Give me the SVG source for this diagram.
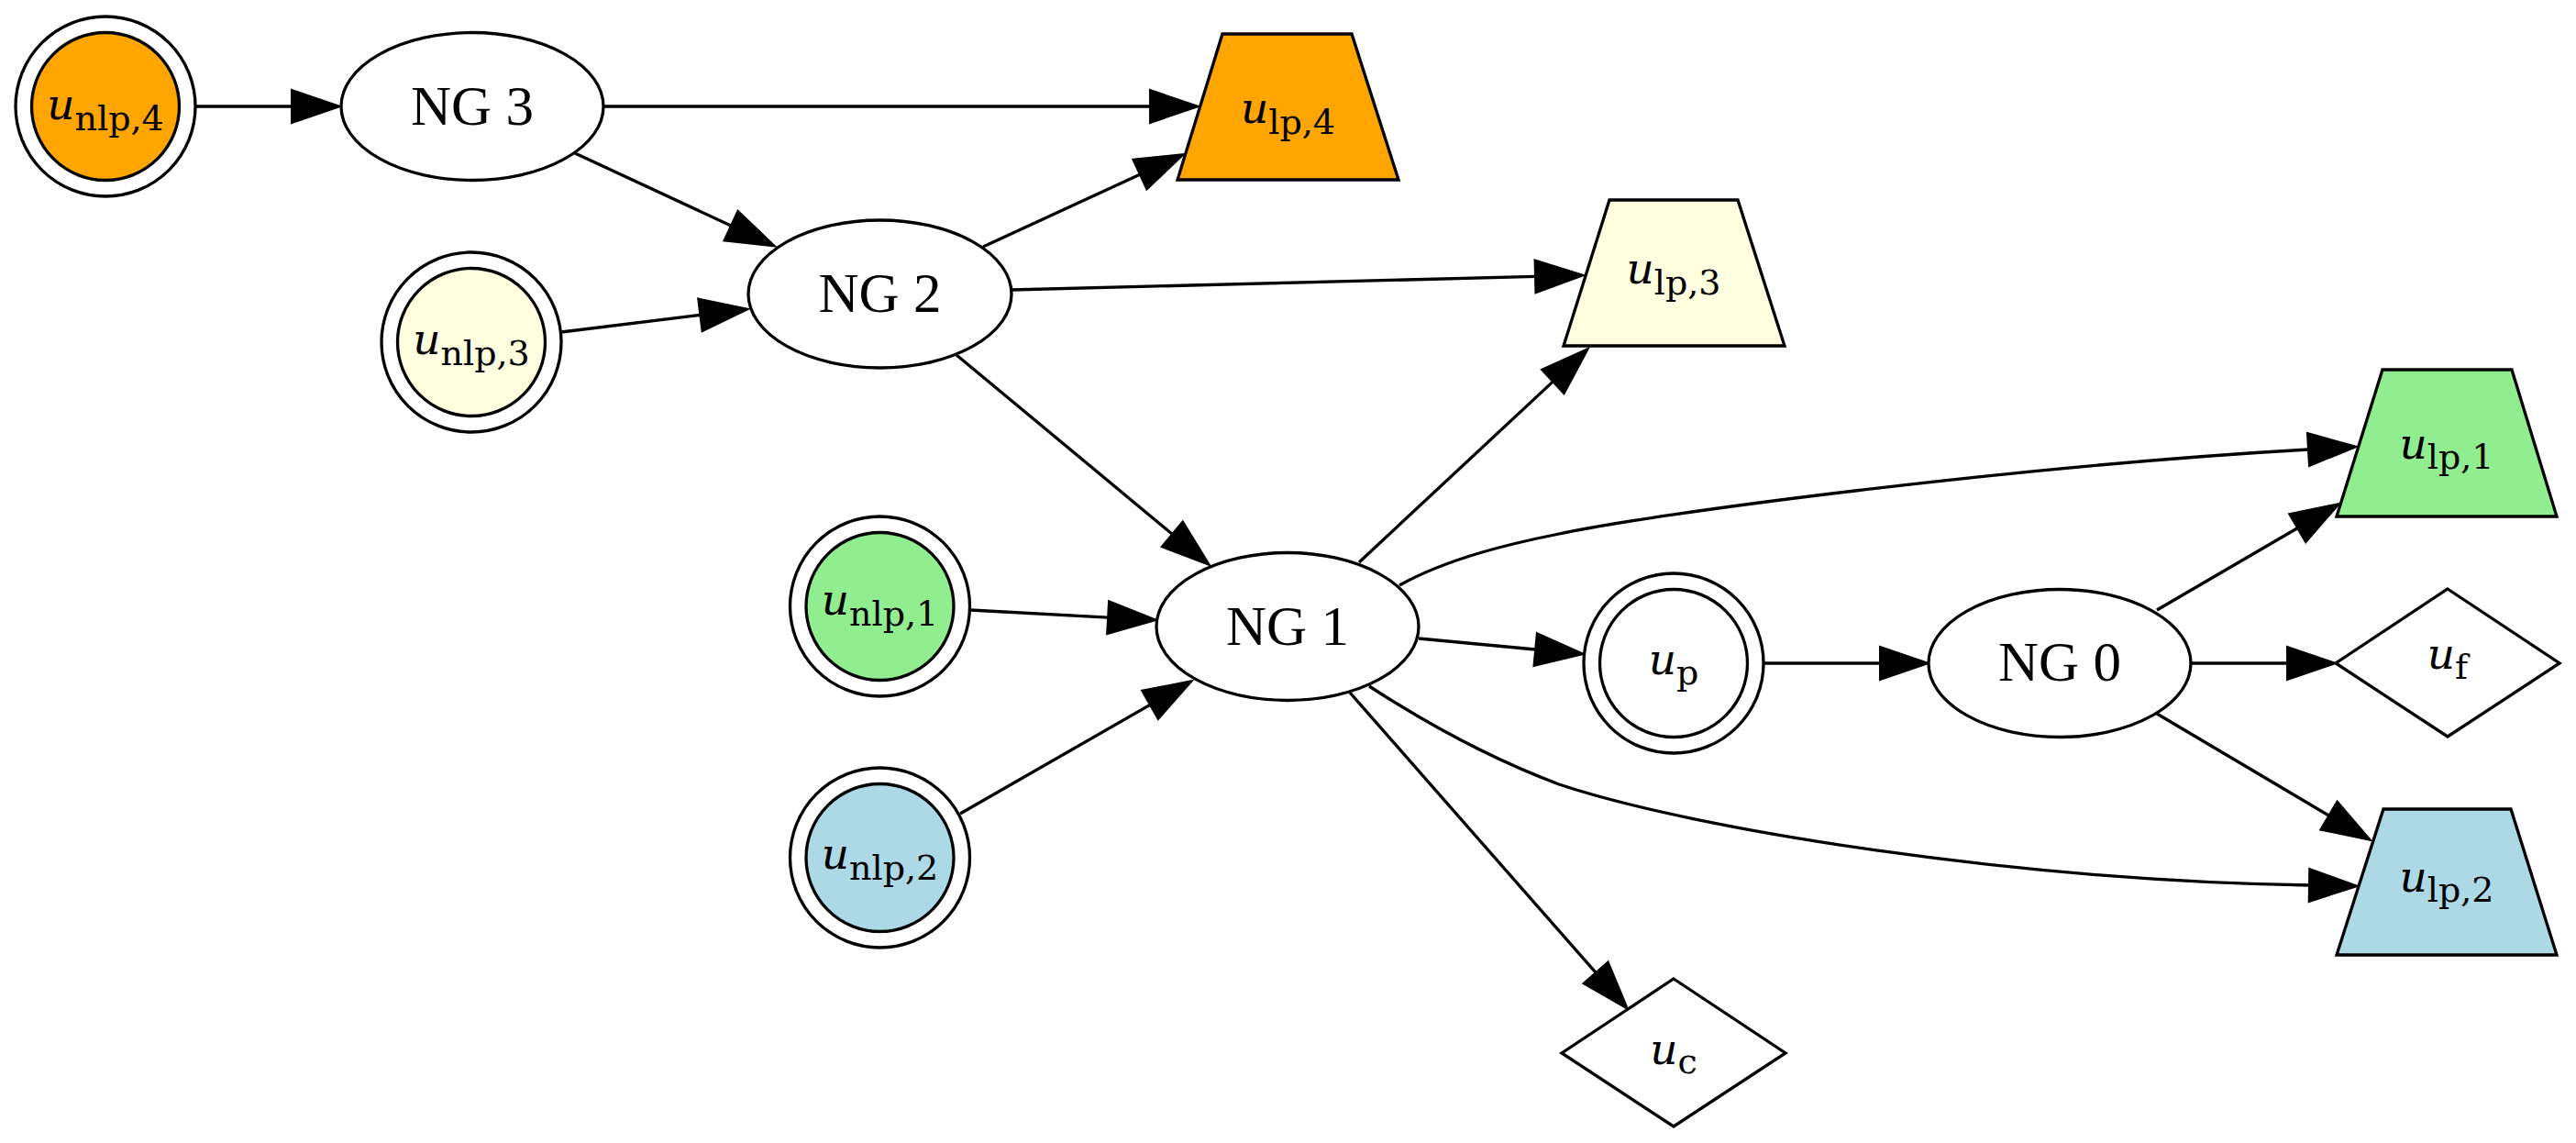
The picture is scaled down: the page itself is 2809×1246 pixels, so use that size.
<svg xmlns="http://www.w3.org/2000/svg" width="2809" height="1246" viewBox="0 0 2809 1246">
<style>
.sh{stroke:#000;stroke-width:3.3;fill:#fff}
.e{stroke:#000;stroke-width:3.3;fill:none;marker-end:url(#ah)}
.ng{font-family:"Liberation Serif","Times New Roman",serif;font-size:61px;text-anchor:middle;fill:#000}
.lb{font-family:"DejaVu Serif",serif;text-anchor:middle;fill:#000}
.u{font-style:italic;font-size:47px}
.s{font-size:38px}
.orange{fill:#FFA500}.yellow{fill:#FFFFE0}.green{fill:#90EE90}.blue{fill:#ADD8E6}
</style>
<defs>
<marker id="ah" markerUnits="userSpaceOnUse" viewBox="0 0 54 36" markerWidth="54" markerHeight="36" refX="0" refY="18" orient="auto" overflow="visible">
<path d="M0,0 L53,18 L0,36 Z" fill="#000" stroke="#000" stroke-width="2"/>
</marker>
</defs>
<rect width="2809" height="1246" fill="#fff"/>
<g id="edges">
<path class="e" d="M213,116 L318,116"/>
<path class="e" d="M658,116 L1254,116"/>
<path class="e" d="M627,167 L797,246"/>
<path class="e" d="M612,362 L763.4,343.4"/>
<path class="e" d="M1072,269 L1242.9,190.2"/>
<path class="e" d="M1103,316 L1674,301.4"/>
<path class="e" d="M1043,387 L1278.2,582.2"/>
<path class="e" d="M1058,665 L1208.1,673.1"/>
<path class="e" d="M1047,887 L1254,768.4"/>
<path class="e" d="M1482,613 L1693.2,416.1"/>
<path class="e" d="M1526,638 C1580,608 1650,592 1700,582 C1800,560 2200,508 2517,490"/>
<path class="e" d="M1547,696 L1674.2,708"/>
<path class="e" d="M1493,748 C1550,785 1620,825 1700,855 C1850,905 2200,960 2518,965"/>
<path class="e" d="M1472,755 L1740,1060.2"/>
<path class="e" d="M1922,723 L2050,723"/>
<path class="e" d="M2352,665 L2505.2,575.7"/>
<path class="e" d="M2389,723 L2494,723"/>
<path class="e" d="M2352,778 L2539.4,889"/>
</g>
<g id="u_nlp4">
<circle class="sh" cx="115" cy="116" r="98"/>
<circle class="sh orange" cx="115" cy="116" r="80.5"/>
<text class="lb" x="115" y="130"><tspan class="u">u</tspan><tspan class="s" dy="12">nlp,4</tspan></text>
</g>
<g id="NG3">
<ellipse class="sh" cx="515" cy="116" rx="143" ry="80.5"/>
<text class="ng" x="515" y="136">NG 3</text>
</g>
<g id="u_nlp3">
<circle class="sh" cx="514" cy="373" r="98"/>
<circle class="sh yellow" cx="514" cy="373" r="80.5"/>
<text class="lb" x="514" y="386"><tspan class="u">u</tspan><tspan class="s" dy="12">nlp,3</tspan></text>
</g>
<g id="NG2">
<ellipse class="sh" cx="959.5" cy="320.5" rx="143.5" ry="80.5"/>
<text class="ng" x="959.5" y="340">NG 2</text>
</g>
<g id="u_lp4">
<polygon class="sh orange" points="1333,37 1474,37 1525,196 1284,196"/>
<text class="lb" x="1404.5" y="134"><tspan class="u">u</tspan><tspan class="s" dy="12">lp,4</tspan></text>
</g>
<g id="u_lp3">
<polygon class="sh yellow" points="1755,218 1895,218 1946,377 1705,377"/>
<text class="lb" x="1825" y="309"><tspan class="u">u</tspan><tspan class="s" dy="12">lp,3</tspan></text>
</g>
<g id="u_nlp1">
<circle class="sh" cx="959.5" cy="661" r="98"/>
<circle class="sh green" cx="959.5" cy="661" r="80.5"/>
<text class="lb" x="959.5" y="670"><tspan class="u">u</tspan><tspan class="s" dy="12">nlp,1</tspan></text>
</g>
<g id="u_nlp2">
<circle class="sh" cx="959.5" cy="935" r="98"/>
<circle class="sh blue" cx="959.5" cy="935" r="80.5"/>
<text class="lb" x="959.5" y="947"><tspan class="u">u</tspan><tspan class="s" dy="12">nlp,2</tspan></text>
</g>
<g id="NG1">
<ellipse class="sh" cx="1404" cy="683" rx="143" ry="80.5"/>
<text class="ng" x="1404" y="703">NG 1</text>
</g>
<g id="u_p">
<circle class="sh" cx="1825" cy="723" r="98"/>
<circle class="sh" cx="1825" cy="723" r="80.5"/>
<text class="lb" x="1825" y="735"><tspan class="u">u</tspan><tspan class="s" dy="11">p</tspan></text>
</g>
<g id="NG0">
<ellipse class="sh" cx="2246" cy="723" rx="143" ry="80.5"/>
<text class="ng" x="2246" y="742">NG 0</text>
</g>
<g id="u_lp1">
<polygon class="sh green" points="2598,403 2739,403 2788,563 2548,563"/>
<text class="lb" x="2668" y="500"><tspan class="u">u</tspan><tspan class="s" dy="11">lp,1</tspan></text>
</g>
<g id="u_f">
<polygon class="sh" points="2669,642 2791,723 2669,803 2547,723"/>
<text class="lb" x="2669" y="729"><tspan class="u">u</tspan><tspan class="s" dy="11">f</tspan></text>
</g>
<g id="u_lp2">
<polygon class="sh blue" points="2599,882 2738,882 2788,1041 2548,1041"/>
<text class="lb" x="2668" y="972"><tspan class="u">u</tspan><tspan class="s" dy="11">lp,2</tspan></text>
</g>
<g id="u_c">
<polygon class="sh" points="1825,1067 1947,1148 1825,1228 1703,1148"/>
<text class="lb" x="1825" y="1160"><tspan class="u">u</tspan><tspan class="s" dy="10">c</tspan></text>
</g>
</svg>
